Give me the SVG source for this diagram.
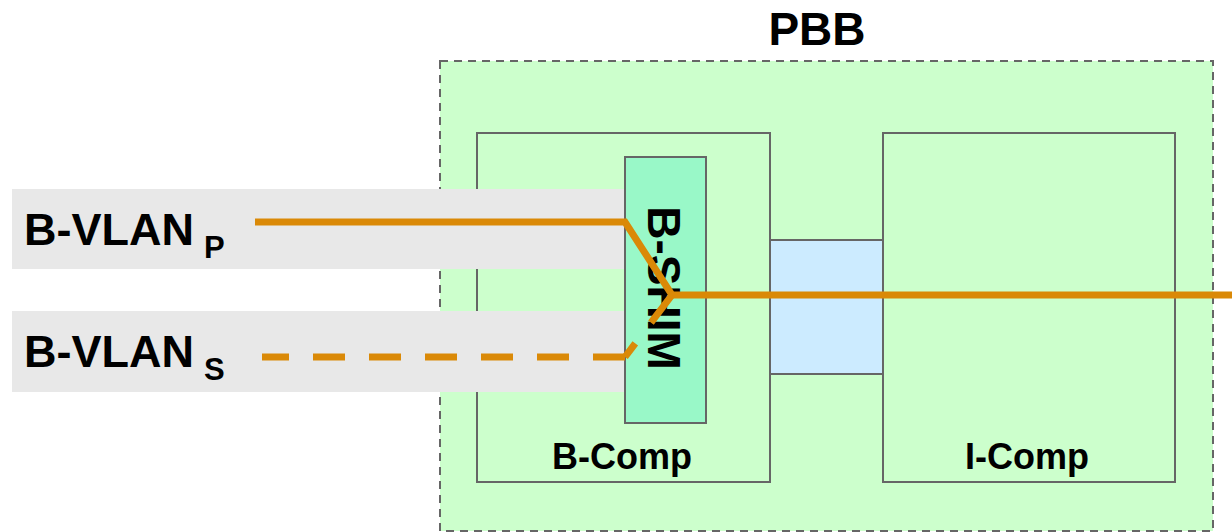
<svg xmlns="http://www.w3.org/2000/svg" width="1232" height="532" viewBox="0 0 1232 532">
<style>
.lbl{font-family:"Liberation Sans",Arial,sans-serif;font-weight:bold;fill:#000}
.box{fill:#CCFFCC;stroke:#666;stroke-width:2}
.band{fill:#E8E8E8}
.wire{fill:none;stroke:#DA8907;stroke-width:7}
</style>
<rect width="1232" height="532" fill="#fff"/>
<g id="pbb">
<rect x="440" y="61" width="773" height="470" fill="#CCFFCC" stroke="#666" stroke-width="2" stroke-dasharray="8 6"/>
<text class="lbl" x="817" y="45" font-size="46" text-anchor="middle">PBB</text>
</g>
<g id="b-comp">
<rect class="box" x="477" y="133" width="293" height="349"/>
<text class="lbl" x="622" y="469" font-size="36" text-anchor="middle">B-Comp</text>
</g>
<g id="i-comp">
<rect class="box" x="883" y="133" width="292" height="349"/>
<text class="lbl" x="1027" y="469" font-size="36" text-anchor="middle">I-Comp</text>
</g>
<g id="link">
<rect x="770" y="240" width="113" height="134" fill="#CCEBFF" stroke="#666" stroke-width="2"/>
</g>
<g id="b-vlan-p">
<rect class="band" x="12" y="189" width="614" height="80"/>
<text class="lbl" x="24" y="245" font-size="45">B-VLAN</text>
<text class="lbl" x="204" y="258" font-size="31">P</text>
</g>
<g id="b-vlan-s">
<rect class="band" x="12" y="311" width="614" height="81"/>
<text class="lbl" x="24" y="367" font-size="45">B-VLAN</text>
<text class="lbl" x="204" y="380" font-size="31">S</text>
</g>
<g id="b-shim">
<rect x="625" y="157" width="81" height="266" fill="#99F8C8" stroke="#666" stroke-width="2"/>
<text class="lbl" transform="translate(648,288) rotate(90)" font-size="46" text-anchor="middle">B-SHIM</text>
</g>
<g id="connectors">
<path class="wire" d="M255,222 H625 L672,295 H1232"/>
<path class="wire" d="M262,357 H625" stroke-dasharray="32 24" stroke-dashoffset="5"/>
<path class="wire" d="M625,357 L672,295" stroke-dasharray="17 26 60"/>
</g>
</svg>
